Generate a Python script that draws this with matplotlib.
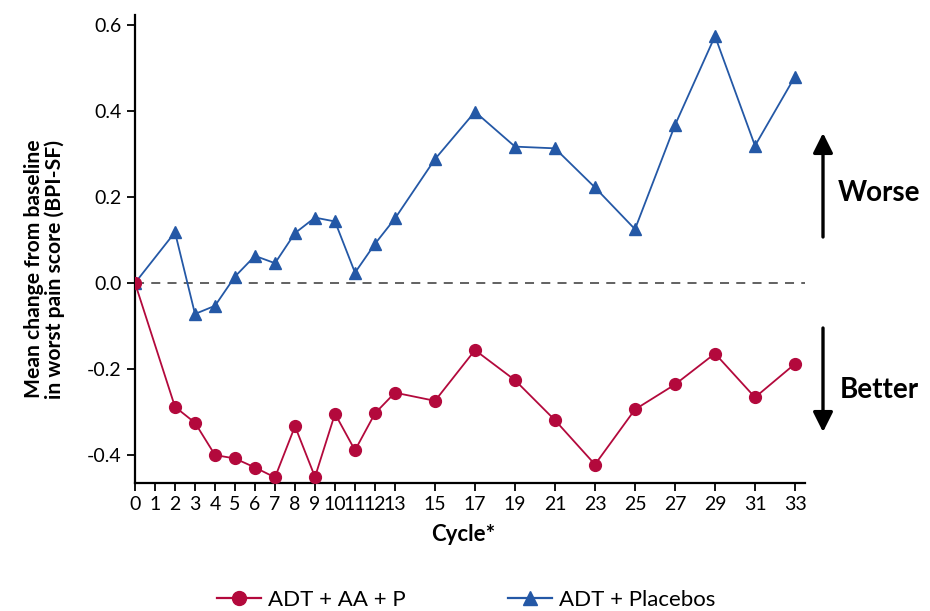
import numpy as np
import matplotlib.pyplot as plt
from matplotlib.lines import Line2D
from matplotlib.patches import FancyArrowPatch

plt.rcParams['font.family'] = ['Lato', 'DejaVu Sans']

##
# Data
##
cycles = [0, 2, 3, 4, 5, 6, 7, 8, 9, 10, 11, 12, 13, 15, 17, 19, 21, 23, 25, 27, 29, 31, 33]
adt_aa_p = [0.0, -0.288, -0.325, -0.400, -0.408, -0.429, -0.452, -0.333, -0.451, -0.304, -0.389,
            -0.303, -0.255, -0.274, -0.156, -0.226, -0.319, -0.422, -0.294, -0.236, -0.164, -0.266, -0.188]
adt_placebo = [0.0, 0.118, -0.072, -0.053, 0.015, 0.063, 0.046, 0.116, 0.152, 0.143, 0.024,
               0.091, 0.150, 0.288, 0.398, 0.317, 0.313, 0.222, 0.125, 0.367, 0.574, 0.319, 0.480]
xticks = list(range(0, 14)) + list(range(15, 34, 2))
yticks = [-0.4, -0.2, 0.0, 0.2, 0.4, 0.6]

red = '#B3093C'
blue = '#2458A6'

fig = plt.figure(figsize=(9.3, 6.11), dpi=100)
ax = fig.add_axes([135 / 930, 1 - 483 / 611, 670 / 930, 468 / 611])

ax.axhline(0, color='#555555', lw=1.3, ls=(0, (5, 4)), zorder=1)
ax.plot(cycles, adt_placebo, color=blue, lw=1.3, marker='^', ms=8.5, zorder=3)
ax.plot(cycles, adt_aa_p, color=red, lw=1.3, marker='o', ms=8.5, zorder=4)

ax.set_xlim(0, 33.5)
ax.set_ylim(-0.465, 0.623)
ax.set_xticks(xticks)
ax.set_xticklabels([str(t) for t in xticks])
ax.set_yticks(yticks)
ax.set_yticklabels(['%.1f' % t for t in yticks])
ax.tick_params(axis='both', labelsize=14, length=6, width=1.3, direction='out')
ax.tick_params(axis='x', pad=3)
for s in ['top', 'right']:
    ax.spines[s].set_visible(False)
for s in ['left', 'bottom']:
    ax.spines[s].set_linewidth(1.6)

ax.set_ylabel('Mean change from baseline\nin worst pain score (BPI-SF)', fontsize=15.2,
              fontweight='bold', linespacing=1.0)
ax.yaxis.set_label_coords(-70 / 670, 0.457)
ax.set_xlabel('Cycle*', fontsize=16, fontweight='bold')
ax.xaxis.set_label_coords(0.5 - 7 / 670, -41 / 468)

# Worse / Better arrows
arrow_kw = dict(arrowstyle='-|>,head_length=0.6,head_width=0.3', color='black', lw=2.4,
                mutation_scale=20, shrinkA=0, shrinkB=0)
fig.add_artist(FancyArrowPatch((823 / 930, 1 - 237 / 611), (823 / 930, 1 - 133 / 611),
                               transform=fig.transFigure, **arrow_kw))
fig.add_artist(FancyArrowPatch((823 / 930, 1 - 328 / 611), (823 / 930, 1 - 432 / 611),
                               transform=fig.transFigure, **arrow_kw))
fig.text(879 / 930, 1 - 193 / 611, 'Worse', fontsize=20, fontweight='bold', ha='center', va='center')
fig.text(879 / 930, 1 - 390 / 611, 'Better', fontsize=20, fontweight='bold', ha='center', va='center')

handles = [Line2D([], [], color=red, lw=1.6, marker='o', ms=10),
           Line2D([], [], color=blue, lw=1.6, marker='^', ms=10)]
fig.legend(handles, ['ADT + AA + P', 'ADT + Placebos'], loc='center', ncol=2,
           bbox_to_anchor=(466 / 930, 1 - 600 / 611), frameon=False, fontsize=16,
           columnspacing=4.6, handlelength=2.0, handletextpad=0.3)

fig.savefig('out.png', dpi=100)
